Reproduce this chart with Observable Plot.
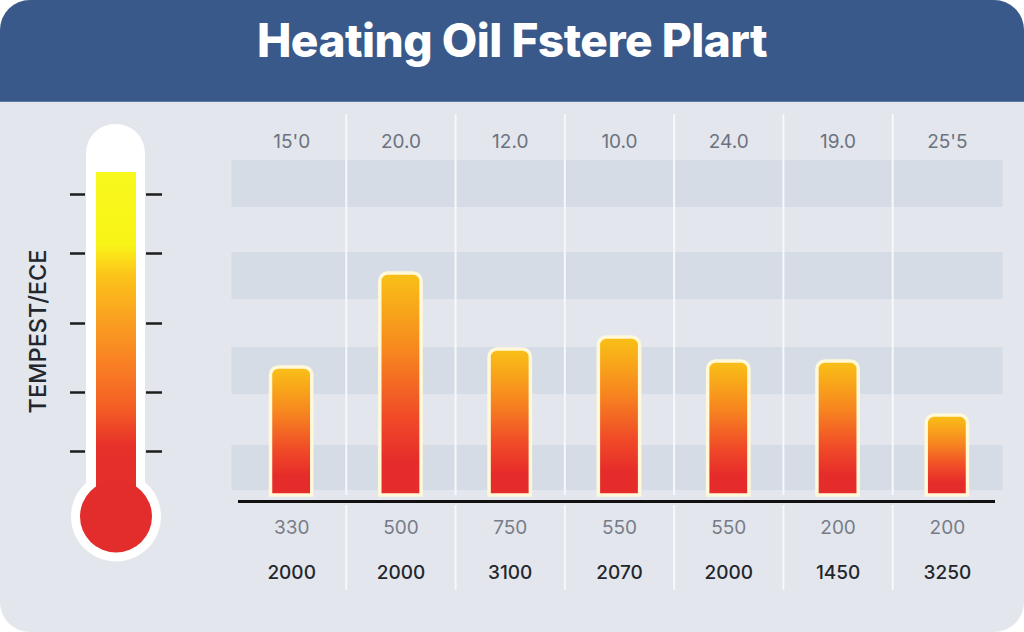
<!DOCTYPE html>
<html>
<head>
<meta charset="utf-8">
<script src="https://cdn.jsdelivr.net/npm/d3@7"></script>
<script src="https://cdn.jsdelivr.net/npm/@observablehq/plot@0.6"></script>
<style>
  html, body { margin: 0; padding: 0; background: #fff; }
  #card { position: relative; width: 1024px; height: 632px; overflow: hidden; border-radius: 30px; background: #e3e6ec; }
  #head { position: absolute; left: 0; top: 0; width: 1024px; height: 102px; background: #38598a; border-bottom: 1px solid #5f7a9f; box-sizing: border-box; }
  #head h1 { margin: 0; padding-top: 11px; text-align: center; color: #fff; font: 800 46px/58px Inter, sans-serif; letter-spacing: -0.5px; }
  #chart, #thermo { position: absolute; left: 0; top: 102px; }
</style>
</head>
<body>
<div id="card">
  <div id="head"><h1>Heating Oil Fstere Plart</h1></div>
  <div id="chart"></div>
  <div id="thermo"></div>
</div>
<script>
const categories = ['A', 'B', 'C', 'D', 'E', 'F', 'G']
const barValues = [128, 222, 146, 158, 134, 134, 80]
const topLabels = ["15'0", '20.0', '12.0', '10.0', '24.0', '19.0', "25'5"]
const midLabels = ['330', '500', '750', '550', '550', '200', '200']
const lowLabels = ['2000', '2000', '3100', '2070', '2000', '1450', '3250']
const stripeLow = [288, 196, 101, 5]
const stripeHigh = [335, 243, 148, 50]

const thermoTicks = [65, 124, 193, 263, 322]
const thermoLevel = 344
const thermoTop = 392
const thermoLabel = 'TEMPEST/ECE'

const font = 'Inter, sans-serif'

// gradients are shared by both plots, found by id in the page
const gradient = (id, stops) => () => {
  const g = d3.create('svg:linearGradient').attr('id', id)
    .attr('x1', 0).attr('x2', 0).attr('y1', 0).attr('y2', 1)
  stops.forEach(([o, c]) => g.append('stop').attr('offset', o).attr('stop-color', c))
  const defs = d3.create('svg:defs')
  defs.append(() => g.node())
  return defs.node()
}

let chart = Plot.plot({
  width: 1024,
  height: 530,
  marginLeft: 236.5,
  marginRight: 22.5,
  marginTop: 0,
  marginBottom: 0,
  style: {background: 'transparent'},
  x: {domain: categories, padding: 0, round: false, axis: null},
  y: {domain: [-137, 393], axis: null},
  marks: [
    gradient('barFill', [
      [0, '#f9c116'], [0.35, '#f7871f'], [0.65, '#f04a28'], [0.85, '#e62c2a'], [1, '#e62c2a']
    ]),
    Plot.rect(stripeLow, {
      y1: d => d, y2: (d, i) => stripeHigh[i],
      fill: '#d6dce5', insetLeft: -5, insetRight: -1
    }),
    Plot.ruleX(categories.slice(1), {x: d => d, dx: -54.65, y1: 0, y2: 381, stroke: '#f7f8fa', strokeWidth: 2}),
    Plot.ruleX(categories.slice(1), {x: d => d, dx: -54.65, y1: -10, y2: -95, stroke: '#f7f8fa', strokeWidth: 2}),
    Plot.barY(barValues, {
      x: (d, i) => categories[i], y: d => d,
      fill: 'url(#barFill)', stroke: '#fff8d9', strokeWidth: 3.5,
      insetLeft: 34, insetRight: 34, ry1: 8
    }),
    Plot.ruleY([0], {dy: 6, stroke: '#111', strokeWidth: 3, insetLeft: 1.5, insetRight: 6.5}),
    Plot.text(categories, {
      x: d => d, text: (d, i) => topLabels[i], frameAnchor: 'top', lineAnchor: 'middle', dy: 39,
      fontFamily: font, fontSize: 19, fill: '#6b7280'
    }),
    Plot.text(categories, {
      x: d => d, y: () => 0, dy: 32, text: (d, i) => midLabels[i],
      fontFamily: font, fontSize: 19, fill: '#767d89'
    }),
    Plot.text(categories, {
      x: d => d, y: () => 0, dy: 77, text: (d, i) => lowLabels[i],
      fontFamily: font, fontSize: 19, fontWeight: 500, fill: '#23262c'
    })
  ]
})
d3.select('#chart').append(() => chart)

let thermo = Plot.plot({
  width: 231,
  height: 530,
  marginLeft: 86,
  marginRight: 86,
  marginTop: 0,
  marginBottom: 0,
  style: {background: 'transparent'},
  x: {domain: ['T'], padding: 0, round: false, axis: null},
  y: {domain: [-116, 414], axis: null},
  marks: [
    gradient('tubeFill', [
      [0, '#f8f81c'], [0.21, '#f9f418'], [0.30, '#fcc41a'], [0.43, '#f9a020'],
      [0.56, '#f97f24'], [0.68, '#f55f25'], [0.80, '#e6302a'], [1, '#e32d2c']
    ]),
    Plot.ruleY(thermoTicks, {y: d => d, stroke: '#1c1c1c', strokeWidth: 2.5, insetLeft: -16, insetRight: 60}),
    Plot.ruleY(thermoTicks, {y: d => d, stroke: '#1c1c1c', strokeWidth: 2.5, insetLeft: 60, insetRight: -17}),
    Plot.dot([0], {x: () => 'T', y: d => d, r: 45, fill: '#fff'}),
    Plot.barY([thermoTop], {x: () => 'T', y: d => d, fill: '#fff', ry1: 29}),
    Plot.barY([thermoLevel], {x: () => 'T', y: d => d, fill: 'url(#tubeFill)', insetLeft: 10, insetRight: 9}),
    Plot.dot([0], {x: () => 'T', y: d => d, r: 36, fill: '#e32d2c'}),
    Plot.text([thermoLabel], {
      text: d => d, y: () => 185, frameAnchor: 'left', textAnchor: 'middle', dx: -48, rotate: -90,
      fontFamily: font, fontSize: 23.5, fontWeight: 500, fill: '#23262c'
    })
  ]
})
d3.select('#thermo').append(() => thermo)
</script>
</body>
</html>
